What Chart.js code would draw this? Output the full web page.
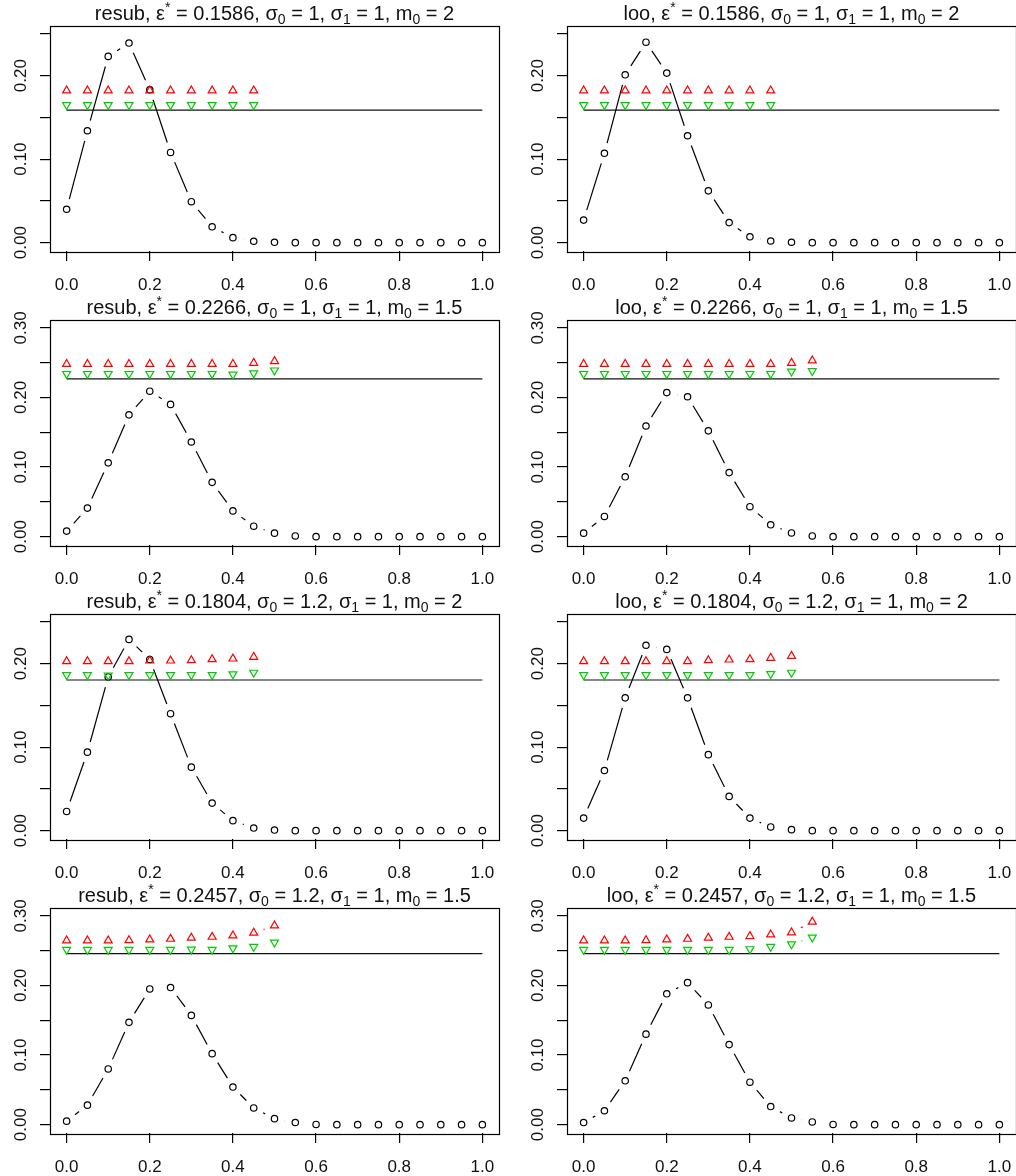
<!DOCTYPE html>
<html>
<head>
<meta charset="utf-8">
<script src="https://cdn.jsdelivr.net/npm/chart.js@4.4.0/dist/chart.umd.min.js"></script>
<style>
  html, body { margin: 0; padding: 0; background: #fff; overflow: hidden; }
  #grade { position: relative; width: 1016px; height: 1176px; overflow: hidden; background: #fff; }
  .painel { position: absolute; width: 517px; height: 294px; }
</style>
</head>
<body>
<div id="grade"></div>
<script>
// error rate grid (k/20)
const xGrid = [0, 0.05, 0.1, 0.15, 0.2, 0.25, 0.3, 0.35, 0.4, 0.45, 0.5,
               0.55, 0.6, 0.65, 0.7, 0.75, 0.8, 0.85, 0.9, 0.95, 1];
const xTicks = [0, 0.2, 0.4, 0.6, 0.8, 1];
const yTicksShort = [0, 0.05, 0.1, 0.15, 0.2, 0.25];
const yTicksTall = [0, 0.05, 0.1, 0.15, 0.2, 0.25, 0.3];
const yLabeled = [0, 0.1, 0.2, 0.3];
const yLimits = [0.25, 0.3, 0.25, 0.3];

// parameters of each row
const epsStar = [0.1586, 0.2266, 0.1804, 0.2457];
const sigma0 = ['1', '1', '1.2', '1.2'];
const sigma1 = ['1', '1', '1', '1'];
const m0 = ['2', '1.5', '2', '1.5'];

// distribution of the estimated error
const resubProb1 = [0.040, 0.134, 0.223, 0.239, 0.183, 0.108, 0.049, 0.019, 0.006, 0.0017, 0.0004, 0, 0, 0, 0, 0, 0, 0, 0, 0, 0];
const looProb1 = [0.027, 0.107, 0.201, 0.240, 0.203, 0.128, 0.062, 0.024, 0.007, 0.002, 0.0005, 0, 0, 0, 0, 0, 0, 0, 0, 0, 0];
const resubProb2 = [0.008, 0.041, 0.106, 0.175, 0.209, 0.190, 0.136, 0.078, 0.037, 0.015, 0.005, 0.001, 0, 0, 0, 0, 0, 0, 0, 0, 0];
const looProb2 = [0.005, 0.029, 0.086, 0.159, 0.207, 0.201, 0.152, 0.092, 0.043, 0.017, 0.0053, 0.001, 0, 0, 0, 0, 0, 0, 0, 0, 0];
const resubProb3 = [0.023, 0.094, 0.184, 0.229, 0.205, 0.140, 0.076, 0.033, 0.012, 0.0031, 0.0007, 0, 0, 0, 0, 0, 0, 0, 0, 0, 0];
const looProb3 = [0.015, 0.072, 0.159, 0.222, 0.217, 0.159, 0.091, 0.041, 0.015, 0.0044, 0.0012, 0, 0, 0, 0, 0, 0, 0, 0, 0, 0];
const resubProb4 = [0.005, 0.028, 0.080, 0.147, 0.195, 0.197, 0.157, 0.102, 0.054, 0.024, 0.0086, 0.0031, 0.0003, 0, 0, 0, 0, 0, 0, 0, 0];
const looProb4 = [0.003, 0.020, 0.063, 0.130, 0.188, 0.204, 0.172, 0.115, 0.061, 0.026, 0.0096, 0.0039, 0.0003, 0, 0, 0, 0, 0, 0, 0, 0];

// upper (red) and lower (green) curves
const resubUp1 = [0.182, 0.182, 0.182, 0.182, 0.182, 0.182, 0.182, 0.182, 0.182, 0.182];
const resubDown1 = [0.165, 0.165, 0.165, 0.165, 0.165, 0.165, 0.165, 0.165, 0.165, 0.165];
const looUp1 = [0.182, 0.182, 0.182, 0.182, 0.182, 0.182, 0.182, 0.182, 0.182, 0.182];
const looDown1 = [0.165, 0.165, 0.165, 0.165, 0.165, 0.165, 0.165, 0.165, 0.165, 0.165];
const resubUp2 = [0.248, 0.248, 0.248, 0.248, 0.248, 0.248, 0.248, 0.248, 0.248, 0.2495, 0.252];
const resubDown2 = [0.234, 0.234, 0.234, 0.234, 0.234, 0.234, 0.234, 0.234, 0.233, 0.235, 0.239];
const looUp2 = [0.248, 0.248, 0.248, 0.248, 0.248, 0.248, 0.248, 0.248, 0.248, 0.248, 0.2495, 0.253];
const looDown2 = [0.234, 0.234, 0.234, 0.234, 0.234, 0.234, 0.234, 0.234, 0.234, 0.234, 0.2375, 0.238];
const resubUp3 = [0.2027, 0.2027, 0.2027, 0.2027, 0.2035, 0.2035, 0.2039, 0.2051, 0.2059, 0.2079];
const resubDown3 = [0.1865, 0.1865, 0.1860, 0.1865, 0.1865, 0.1865, 0.1865, 0.1865, 0.1873, 0.1893];
const looUp3 = [0.2027, 0.2027, 0.2027, 0.2027, 0.2027, 0.2027, 0.2039, 0.2047, 0.2051, 0.2067, 0.2091];
const looDown3 = [0.1865, 0.1865, 0.1865, 0.1865, 0.1865, 0.1865, 0.1865, 0.1865, 0.1865, 0.1877, 0.1893];
const resubUp4 = [0.2644, 0.2644, 0.2644, 0.2649, 0.2659, 0.2668, 0.2683, 0.2697, 0.2716, 0.2755, 0.2860];
const resubDown4 = [0.2513, 0.2513, 0.2513, 0.2513, 0.2513, 0.2513, 0.2518, 0.2513, 0.2537, 0.2556, 0.2619];
const looUp4 = [0.2644, 0.2644, 0.2644, 0.2649, 0.2659, 0.2668, 0.2683, 0.2697, 0.2707, 0.2731, 0.2760, 0.2913];
const looDown4 = [0.2513, 0.2513, 0.2513, 0.2513, 0.2513, 0.2513, 0.2513, 0.2513, 0.2523, 0.2556, 0.2594, 0.2690];

const panels = [
  { method: 'resub', row: 0, col: 0, prob: resubProb1, up: resubUp1, down: resubDown1 },
  { method: 'loo',   row: 0, col: 1, prob: looProb1,   up: looUp1,   down: looDown1 },
  { method: 'resub', row: 1, col: 0, prob: resubProb2, up: resubUp2, down: resubDown2 },
  { method: 'loo',   row: 1, col: 1, prob: looProb2,   up: looUp2,   down: looDown2 },
  { method: 'resub', row: 2, col: 0, prob: resubProb3, up: resubUp3, down: resubDown3 },
  { method: 'loo',   row: 2, col: 1, prob: looProb3,   up: looUp3,   down: looDown3 },
  { method: 'resub', row: 3, col: 0, prob: resubProb4, up: resubUp4, down: resubDown4 },
  { method: 'loo',   row: 3, col: 1, prob: looProb4,   up: looUp4,   down: looDown4 },
];

const RED = '#ff0000';
const GREEN = '#00cd00';
const FONT = '"Liberation Sans", Arial, Helvetica, sans-serif';
const GAP = 10.5;   // blank space left around each point (type "b")
const LW = 1.2;

Chart.defaults.font.family = FONT;

const pts = vals => vals.map((v, i) => ({ x: xGrid[i], y: v }));

// leave a gap at both ends of every segment, drop it if too short
function gapDash(ctx) {
  const d = Math.hypot(ctx.p1.x - ctx.p0.x, ctx.p1.y - ctx.p0.y);
  return d > 2 * GAP ? [0, GAP, d - 2 * GAP, GAP] : [0, d + 1];
}

function titleParts(method, row) {
  return [
    { t: method + ', ' }, { t: 'ε' }, { t: '*', k: 0.7, dy: -0.42 },
    { t: ' = ' + epsStar[row].toFixed(4) + ', ' },
    { t: 'σ' }, { t: '0', k: 0.7, dy: 0.22 }, { t: ' = ' + sigma0[row] + ', ' },
    { t: 'σ' }, { t: '1', k: 0.7, dy: 0.22 }, { t: ' = ' + sigma1[row] + ', ' },
    { t: 'm' }, { t: '0', k: 0.7, dy: 0.22 }, { t: ' = ' + m0[row] },
  ];
}

function drawRich(ctx, parts, cx, baseline, size) {
  let total = 0;
  parts.forEach(p => {
    ctx.font = (size * (p.k || 1)) + 'px ' + FONT;
    p.w = ctx.measureText(p.t).width;
    total += p.w;
  });
  let x = cx - total / 2;
  parts.forEach(p => {
    ctx.font = (size * (p.k || 1)) + 'px ' + FONT;
    ctx.fillText(p.t, x, baseline + (p.dy || 0) * size);
    x += p.w;
  });
}

// frame around the plot region and the panel title
const frameAndTitle = {
  id: 'frameAndTitle',
  afterDraw(chart, args, opts) {
    const { ctx, chartArea: a } = chart;
    ctx.save();
    ctx.strokeStyle = '#000';
    ctx.lineWidth = LW;
    ctx.strokeRect(Math.round(a.left) + 0.5, Math.round(a.top) + 0.5,
                   Math.round(a.right - a.left), Math.round(a.bottom - a.top));
    ctx.fillStyle = '#111';
    ctx.textAlign = 'left';
    ctx.textBaseline = 'alphabetic';
    drawRich(ctx, titleParts(opts.method, opts.row), (a.left + a.right) / 2, a.top - 5.5, 20);
    ctx.restore();
  }
};

function makeChart(canvas, p) {
  const top = yLimits[p.row];
  const yTicks = top > 0.26 ? yTicksTall : yTicksShort;
  const gridOpts = { drawOnChartArea: false, drawTicks: true, tickLength: 10, color: '#000', lineWidth: LW };

  new Chart(canvas.getContext('2d'), {
    type: 'line',
    data: {
      datasets: [
        {
          data: pts(p.up),
          borderColor: RED, borderWidth: LW,
          pointStyle: 'triangle', pointRadius: 4.6,
          pointBorderColor: RED, pointBorderWidth: LW, pointBackgroundColor: 'rgba(0,0,0,0)',
          segment: { borderDash: gapDash },
        },
        {
          data: pts(p.down),
          borderColor: GREEN, borderWidth: LW,
          pointStyle: 'triangle', pointRotation: 180, pointRadius: 4.6,
          pointBorderColor: GREEN, pointBorderWidth: LW, pointBackgroundColor: 'rgba(0,0,0,0)',
          segment: { borderDash: gapDash },
        },
        {
          data: [{ x: 0, y: epsStar[p.row] }, { x: 1, y: epsStar[p.row] }],
          borderColor: '#111', borderWidth: LW, pointRadius: 0,
        },
        {
          data: pts(p.prob),
          borderColor: '#000', borderWidth: LW,
          pointStyle: 'circle', pointRadius: 3.2,
          pointBorderColor: '#000', pointBorderWidth: LW, pointBackgroundColor: 'rgba(0,0,0,0)',
          segment: { borderDash: gapDash },
        },
      ]
    },
    options: {
      responsive: false,
      animation: false,
      events: [],
      layout: { padding: { top: 25.5, right: 18, left: 0, bottom: 0 } },
      plugins: {
        legend: { display: false },
        tooltip: { enabled: false },
        frameAndTitle: { method: p.method, row: p.row },
      },
      scales: {
        x: {
          type: 'linear',
          min: -0.04,
          max: 1.04,
          afterBuildTicks: s => { s.ticks = xTicks.map(v => ({ value: v })); },
          afterFit: s => { s.height = 43; s.paddingLeft = 0; s.paddingRight = 0; },
          grid: gridOpts,
          border: { display: false },
          ticks: {
            autoSkip: false, maxRotation: 0,
            padding: 14,
            color: '#111',
            font: { size: 17 },
            callback: v => v.toFixed(1),
          },
        },
        y: {
          min: -0.04 * top,
          max: 1.04 * top,
          afterBuildTicks: s => { s.ticks = yTicks.map(v => ({ value: v })); },
          afterFit: s => { s.width = 50; s.paddingTop = 0; s.paddingBottom = 0; },
          grid: gridOpts,
          border: { display: false },
          ticks: {
            autoSkip: false,
            minRotation: 90, maxRotation: 90,
            crossAlign: 'center',
            padding: 2.5,
            color: '#111',
            font: { size: 17 },
            callback: v => yLabeled.some(l => Math.abs(l - v) < 1e-9) ? v.toFixed(2) : '',
          },
        },
      },
    },
    plugins: [frameAndTitle],
  });
}

const grade = document.getElementById('grade');
panels.forEach(p => {
  const div = document.createElement('div');
  div.className = 'painel';
  div.style.left = (p.col * 517) + 'px';
  div.style.top = (p.row * 294) + 'px';
  const cv = document.createElement('canvas');
  cv.width = 517;
  cv.height = 294;
  div.appendChild(cv);
  grade.appendChild(div);
  makeChart(cv, p);
});
</script>
</body>
</html>
